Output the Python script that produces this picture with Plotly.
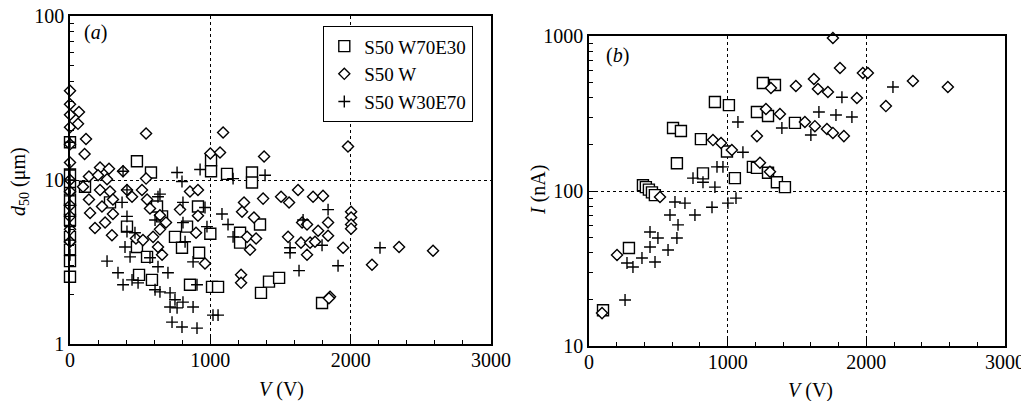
import plotly.graph_objects as go

# ---------------- data : panel (a)  d50 vs V ----------------
a_sq_V = [0, 0, 0, 0, 0, 0, 0, 0, 0, 0,
          477, 577, 107, 285, 406, 477, 549, 492, 584, 855, 912, 920, 834, 748, 656,
          1000, 620, 1005, 1005, 1119, 1297, 1297, 1212, 1212, 1354, 1012, 1055, 1361,
          1418, 1490, 1796, 798]
a_sq_d = [17, 10.8, 9.1, 7.6, 6.6, 5.7, 4.5, 3.76, 3.2, 2.57,
          13.0, 11.1, 9.1, 7.3, 5.2, 3.9, 3.4, 2.64, 2.46, 2.3, 6.9, 3.6, 5.2, 4.5, 6.0,
          4.7, 6.9, 13.2, 11.3, 10.9, 11.1, 9.65, 4.77, 4.15, 5.35, 2.23, 2.23, 2.05,
          2.4, 2.53, 1.78, 3.86]

a_di_V = [0, 0, 0, 0, 0, 0, 0, 0, 0, 0, 0, 0,
          64, 57, 114, 104,
          542, 214, 278, 135, 93, 200, 264, 378, 214, 285, 135, 143, 228, 306, 178, 250,
          306, 299, 406, 442, 513, 542, 549, 570, 641, 684, 641, 592, 627, 656, 470, 520,
          784, 855, 912, 898, 962, 912, 1000,
          1091, 1069, 1383, 1981, 1240, 1226, 1376, 1504, 1561, 1625, 1732, 1803, 1311,
          1262, 1326, 1283, 1554, 1654, 1689, 1839, 1768, 1839, 1646, 1711, 1746, 1689,
          1946, 2003, 2003, 2003, 2003, 1219, 1219, 1853, 1845,
          2152, 2345, 2587]
a_di_d = [35, 29, 25, 21, 16.5, 12.8, 10, 8.5, 7, 6, 5, 4.2,
          26, 22, 17.8, 14.4,
          19.2, 11.9, 11.7, 10.5, 9.1, 10.7, 10.1, 11.3, 8.7, 8.5, 7.6, 6.3, 6.9, 7.6, 5.1, 5.5,
          6.2, 4.6, 8.7, 7.9, 8.7, 10.2, 7.6, 6.7, 6.1, 5.5, 5.0, 4.5, 3.9, 3.5, 4.4, 4.3,
          6.6, 8.5, 8.7, 4.77, 3.1, 6.06, 14.5,
          19.5, 14.7, 13.9, 16, 7.3, 6.4, 7.7, 7.9, 7.3, 8.7, 7.9, 8.0, 5.9,
          4.5, 4.4, 3.76, 4.5, 5.5, 5.35, 5.5, 4.9, 4.57, 4.15, 4.15, 4.2, 3.5,
          3.86, 6.4, 5.9, 5.35, 5.05, 2.64, 2.36, 1.94, 1.9,
          3.04, 3.9, 3.7]

a_cr_V = [0, 0, 0, 0, 0, 0, 0, 0, 0, 0,
          264, 342, 378, 442, 485, 606, 641, 698, 713, 748, 713, 763, 805, 877, 727, 798,
          905, 905, 392, 428, 406, 463, 570, 627, 406, 371, 406, 627, 606, 763, 798, 927,
          805, 962, 805, 820, 877, 976, 378, 641,
          1162, 1390, 1083, 1126, 1162, 1661, 1839, 1568, 1568, 1796, 1632, 1910, 1019,
          1055, 2209]
a_cr_d = [17, 11.5, 10, 9, 8, 7, 6, 5.2, 4.3, 3.5,
          3.2, 2.72, 2.3, 2.46, 2.36, 2.14, 2.08, 2.72, 2.05, 1.86, 1.68, 1.66, 1.8, 1.68, 1.36, 1.27,
          1.25, 2.3, 3.9, 3.4, 4.85, 4.77, 3.36, 2.96, 6.0, 7.3, 8.7, 7.9, 5.7, 11.1, 9.8, 11.6,
          7.3, 6.8, 5.5, 4.2, 3.17, 5.2, 11.3, 8.2,
          10.2, 10.7, 6.2, 5.35, 4.5, 5.7, 6.6, 3.86, 3.6, 4.0, 2.8, 3.0, 1.5,
          1.5, 3.86]

# ---------------- data : panel (b)  I vs V ----------------
b_sq_V = [101, 288, 389, 410, 432, 454, 475, 634, 995, 1052, 822, 1182, 908, 1009,
          1254, 1341, 1211, 1291, 1485, 807, 1211, 1291, 1355, 1413, 606, 663]
b_sq_I = [17, 42.9, 109, 106, 102, 98, 94, 151, 180, 121, 130, 143, 375, 358,
          498, 483, 323, 305, 275, 216, 141, 131, 114, 106, 255, 244]

b_di_V = [94, 202, 512, 1030, 1759, 1810, 1975, 2011, 2141, 1312, 1492, 1622, 1651,
          1723, 1932, 1276, 1377, 1211, 1557, 1629, 1716, 1759, 1838, 894, 952, 1233,
          1305, 2336, 2588]
b_di_I = [16.3, 38.6, 91.4, 184, 970, 622, 577, 577, 353, 462, 476, 528, 455,
          435, 398, 338, 314, 226, 279, 262, 251, 237, 226, 213, 204, 152,
          133, 512, 469]

b_cr_V = [260, 274, 317, 382, 476, 440, 570, 497, 440, 634, 642, 584, 764, 692, 620,
          887, 1002, 1060, 750, 822, 908, 923, 966, 1110, 2192, 1824, 1658, 1781, 1896,
          1391, 1074, 1600]
b_cr_I = [19.8, 34.3, 32.3, 37, 34.8, 43.5, 41.6, 49.7, 54.4, 49.7, 60.5, 70, 70, 83.5, 85,
          78.6, 83.5, 90, 121, 114, 106, 143, 143, 178, 469, 403, 323, 309, 300,
          255, 279, 230]

series_names = ["S50 W70E30", "S50 W", "S50 W30E70"]

# ---------------- figure ----------------
OFF = 8                      # page body margin of the html page
W, H = 1029 - OFF, 401 - OFF
FONT = "Liberation Serif"


def px_x(p):
    return (p - OFF) / W


def px_y(p):
    return 1 - (p - OFF) / H


sq_style = dict(symbol="square", size=11, color="white",
                line=dict(color="black", width=1.4))
di_style = dict(symbol="diamond", size=8.5, color="white",
                line=dict(color="black", width=1.4))
cr_style = dict(symbol="cross-thin-open", size=8.5, color="black",
                line=dict(color="black", width=1.4))

fig = go.Figure()
for (xs, ys, st, nm) in [(a_sq_V, a_sq_d, sq_style, series_names[0]),
                         (a_di_V, a_di_d, di_style, series_names[1]),
                         (a_cr_V, a_cr_d, cr_style, series_names[2])]:
    fig.add_trace(go.Scatter(x=xs, y=ys, mode="markers", marker=st, name=nm,
                             xaxis="x", yaxis="y", cliponaxis=False, showlegend=True))
for (xs, ys, st, nm) in [(b_sq_V, b_sq_I, sq_style, series_names[0]),
                         (b_di_V, b_di_I, di_style, series_names[1]),
                         (b_cr_V, b_cr_I, cr_style, series_names[2])]:
    fig.add_trace(go.Scatter(x=xs, y=ys, mode="markers", marker=st, name=nm,
                             xaxis="x2", yaxis="y2", cliponaxis=False, showlegend=False))

common_x = dict(range=[0, 3000], dtick=1000, tick0=0, ticks="inside", ticklen=7,
                tickwidth=1.2, tickcolor="black", automargin=False,
                ticklabeloverflow="allow",
                minor=dict(dtick=200, ticks="inside", ticklen=4, tickcolor="black",
                           showgrid=False),
                showgrid=True, gridcolor="black", griddash="dot", gridwidth=1,
                showline=True, linecolor="black", linewidth=1.6, mirror=True,
                zeroline=False, tickfont=dict(family=FONT, size=20, color="black"),
                ticklabelstandoff=-3)
common_y = dict(type="log", ticks="inside", ticklen=7, tickwidth=1.2, tickcolor="black",
                automargin=False, ticklabeloverflow="allow",
                minor=dict(dtick="D1", ticks="inside", ticklen=4, tickcolor="black",
                           showgrid=False),
                showgrid=True, gridcolor="black", griddash="dot", gridwidth=1,
                showline=True, linecolor="black", linewidth=1.6, mirror=True,
                zeroline=False, tickfont=dict(family=FONT, size=20, color="black"),
                ticklabelstandoff=0)

fig.update_layout(
    width=W, height=H,
    margin=dict(l=0, r=0, t=0, b=0, autoexpand=False),
    paper_bgcolor="white", plot_bgcolor="white",
    xaxis=dict(domain=[px_x(70), px_x(491)], anchor="y", **common_x),
    yaxis=dict(domain=[px_y(344), px_y(16)], anchor="x", range=[0, 2],
               tickvals=[1, 10, 100], ticktext=["1", "10", "100"], **common_y),
    xaxis2=dict(domain=[px_x(589), px_x(1005)], anchor="y2", **common_x),
    yaxis2=dict(domain=[px_y(346), px_y(36)], anchor="x2", range=[1, 3],
                tickvals=[10, 100, 1000], ticktext=["10", "100", "1000"], **common_y),
    legend=dict(x=px_x(323), y=px_y(26), xanchor="left", yanchor="top",
                bgcolor="white", bordercolor="black", borderwidth=1.3,
                font=dict(family=FONT, size=19, color="black"),
                itemwidth=30, tracegroupgap=0),
    showlegend=True,
)

ann_font = dict(family=FONT, size=20, color="black")
annotations = [
    dict(text="(<i>a</i>)", x=px_x(95), y=px_y(33)),
    dict(text="(<i>b</i>)", x=px_x(617), y=px_y(56)),
    dict(text="<i>V</i> (V)", x=px_x(281), y=px_y(389)),
    dict(text="<i>V</i> (V)", x=px_x(810), y=px_y(390)),
    dict(text="<i>d</i><sub>50</sub> (μm)", x=px_x(19), y=px_y(182), textangle=-90),
    dict(text="<i>I</i> (nA)", x=px_x(538), y=px_y(190), textangle=-90),
]
for a in annotations:
    a.update(xref="paper", yref="paper", showarrow=False, font=ann_font,
             xanchor="center", yanchor="middle")
fig.update_layout(annotations=annotations)

fig.write_html("out.html")
